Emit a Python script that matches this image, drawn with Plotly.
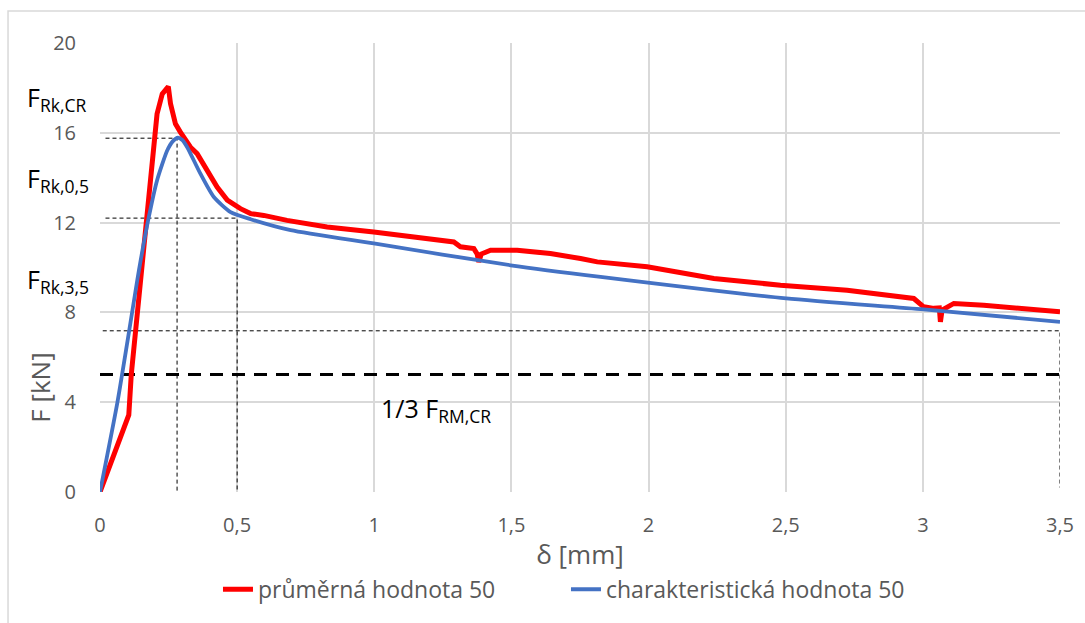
import plotly.graph_objects as go

# ---- data ----
red_x = [0, 0.105, 0.114, 0.149, 0.170, 0.208, 0.227, 0.249, 0.257, 0.275, 0.293, 0.330, 0.354,
         0.391, 0.427, 0.464, 0.512, 0.549, 0.597, 0.682, 0.828, 0.998, 1.156, 1.290, 1.314,
         1.363, 1.375, 1.381, 1.390, 1.424, 1.521, 1.642, 1.752, 1.813, 1.995, 2.238, 2.481,
         2.724, 2.967, 3.003, 3.040, 3.060, 3.064, 3.070, 3.113, 3.222, 3.500]
red_y = [0, 3.43, 5.23, 9.44, 12.24, 16.84, 17.73, 18.06, 17.30, 16.40, 16.03, 15.36, 15.07,
         14.30, 13.58, 13.00, 12.62, 12.40, 12.32, 12.10, 11.80, 11.58, 11.36, 11.14, 10.92,
         10.84, 10.60, 10.25, 10.60, 10.77, 10.77, 10.62, 10.40, 10.25, 10.03, 9.51, 9.21,
         8.99, 8.62, 8.25, 8.18, 8.20, 7.58, 8.10, 8.40, 8.32, 8.03]

blue_x = [0, 0.063, 0.100, 0.136, 0.148, 0.178, 0.208, 0.245, 0.265, 0.284, 0.300, 0.318, 0.366,
          0.415, 0.476, 0.549, 0.695, 0.998, 1.497, 1.825, 2.502, 3.003, 3.500]
blue_y = [0, 3.96, 6.70, 9.44, 10.30, 12.25, 13.88, 15.21, 15.62, 15.78, 15.68, 15.36, 14.18,
          13.14, 12.47, 12.15, 11.66, 11.07, 10.10, 9.58, 8.62, 8.13, 7.58]

series_names = ["průměrná hodnota 50", "charakteristická hodnota 50"]

# characteristic values (reference lines)
delta_cr = 0.281
f_rk_cr = 15.76
delta_05 = 0.5
f_rk_05 = 12.2
delta_35 = 3.5
f_rk_35 = 7.18
f_rm_third = 5.23
ref_start = 0.02

x_ticks = [0, 0.5, 1, 1.5, 2, 2.5, 3, 3.5]
x_ticktext = ["0", "0,5", "1", "1,5", "2", "2,5", "3", "3,5"]
y_ticks = [0, 4, 8, 12, 16, 20]

GRID = "#D9D9D9"
TXT = "#595959"
FONT = "Open Sans"

fig = go.Figure()

thin = dict(color="black", width=1, dash="4px,3px")
# thin dashed helper lines
fig.add_trace(go.Scatter(x=[ref_start, delta_cr, delta_cr], y=[f_rk_cr, f_rk_cr, -0.2],
                         mode="lines", line=thin, showlegend=False, hoverinfo="skip", cliponaxis=False))
fig.add_trace(go.Scatter(x=[ref_start, delta_05, delta_05], y=[f_rk_05, f_rk_05, 0.1],
                         mode="lines", line=thin, showlegend=False, hoverinfo="skip", cliponaxis=False))
fig.add_trace(go.Scatter(x=[0.01, delta_35, delta_35], y=[f_rk_35, f_rk_35, 0.2],
                         mode="lines", line=thin, showlegend=False, hoverinfo="skip", cliponaxis=False))
# thick dashed 1/3 F_RM,CR line
fig.add_trace(go.Scatter(x=[0, 3.5], y=[f_rm_third, f_rm_third], mode="lines",
                         line=dict(color="black", width=3, dash="13px,9px"),
                         showlegend=False, hoverinfo="skip", cliponaxis=False))

fig.add_trace(go.Scatter(x=red_x, y=red_y, mode="lines", name=series_names[0],
                         line=dict(color="#FF0000", width=5)))
fig.add_trace(go.Scatter(x=blue_x, y=blue_y, mode="lines", name=series_names[1],
                         line=dict(color="#4472C4", width=3.8, shape="spline", smoothing=0.6)))

fig.update_xaxes(range=[0, 3.5], tickvals=x_ticks, ticktext=x_ticktext, showgrid=True,
                 gridcolor=GRID, gridwidth=1.5, zeroline=False, showline=False, ticks="",
                 tickfont=dict(family=FONT, size=20, color=TXT), ticklabelstandoff=19,
                 title=dict(text="δ [mm]", font=dict(family=FONT, size=26, color=TXT), standoff=8))
fig.update_yaxes(range=[0, 20], tickvals=y_ticks, showgrid=True, gridcolor=GRID, gridwidth=1.5,
                 zeroline=False, showline=False, ticks="",
                 tickfont=dict(family=FONT, size=20, color=TXT), ticklabelstandoff=23)

# outer chart border
fig.add_shape(type="rect", xref="paper", yref="paper", x0=-0.0958, x1=1.06, y0=-0.35, y1=1.0711,
              line=dict(color=GRID, width=1.5), layer="below")

ann_font = dict(family=FONT, size=25, color="black")
fig.add_annotation(text="F<sub>Rk,CR</sub>", xref="paper", yref="y", x=-0.078, y=17.53,
                   xanchor="left", yanchor="middle", showarrow=False, font=ann_font)
fig.add_annotation(text="F<sub>Rk,0,5</sub>", xref="paper", yref="y", x=-0.078, y=13.94,
                   xanchor="left", yanchor="middle", showarrow=False, font=ann_font)
fig.add_annotation(text="F<sub>Rk,3,5</sub>", xref="paper", yref="y", x=-0.078, y=9.40,
                   xanchor="left", yanchor="middle", showarrow=False, font=ann_font)
fig.add_annotation(text="1/3 F<sub>RM,CR</sub>", xref="x", yref="y", x=1.016, y=3.67,
                   xanchor="left", yanchor="middle", showarrow=False, font=ann_font)
fig.add_annotation(text="F [kN]", xref="paper", yref="paper", x=-0.0625, y=0.2322,
                   textangle=-90, xanchor="center", yanchor="middle", showarrow=False,
                   font=dict(family=FONT, size=26, color=TXT))

fig.update_layout(
    width=1085, height=623, autosize=False,
    margin=dict(l=100, r=24.5, t=42.5, b=130.5),
    plot_bgcolor="white", paper_bgcolor="white",
    font=dict(family=FONT),
    legend=dict(orientation="h", x=0.1229, xanchor="left", y=-0.2167, yanchor="middle",
                font=dict(family=FONT, size=23, color=TXT), entrywidth=303,
                entrywidthmode="pixels", bgcolor="rgba(0,0,0,0)"),
)

fig.write_html("out.html", config={"displayModeBar": False},
               post_script="document.body.style.margin='0';document.body.style.overflow='hidden';")
